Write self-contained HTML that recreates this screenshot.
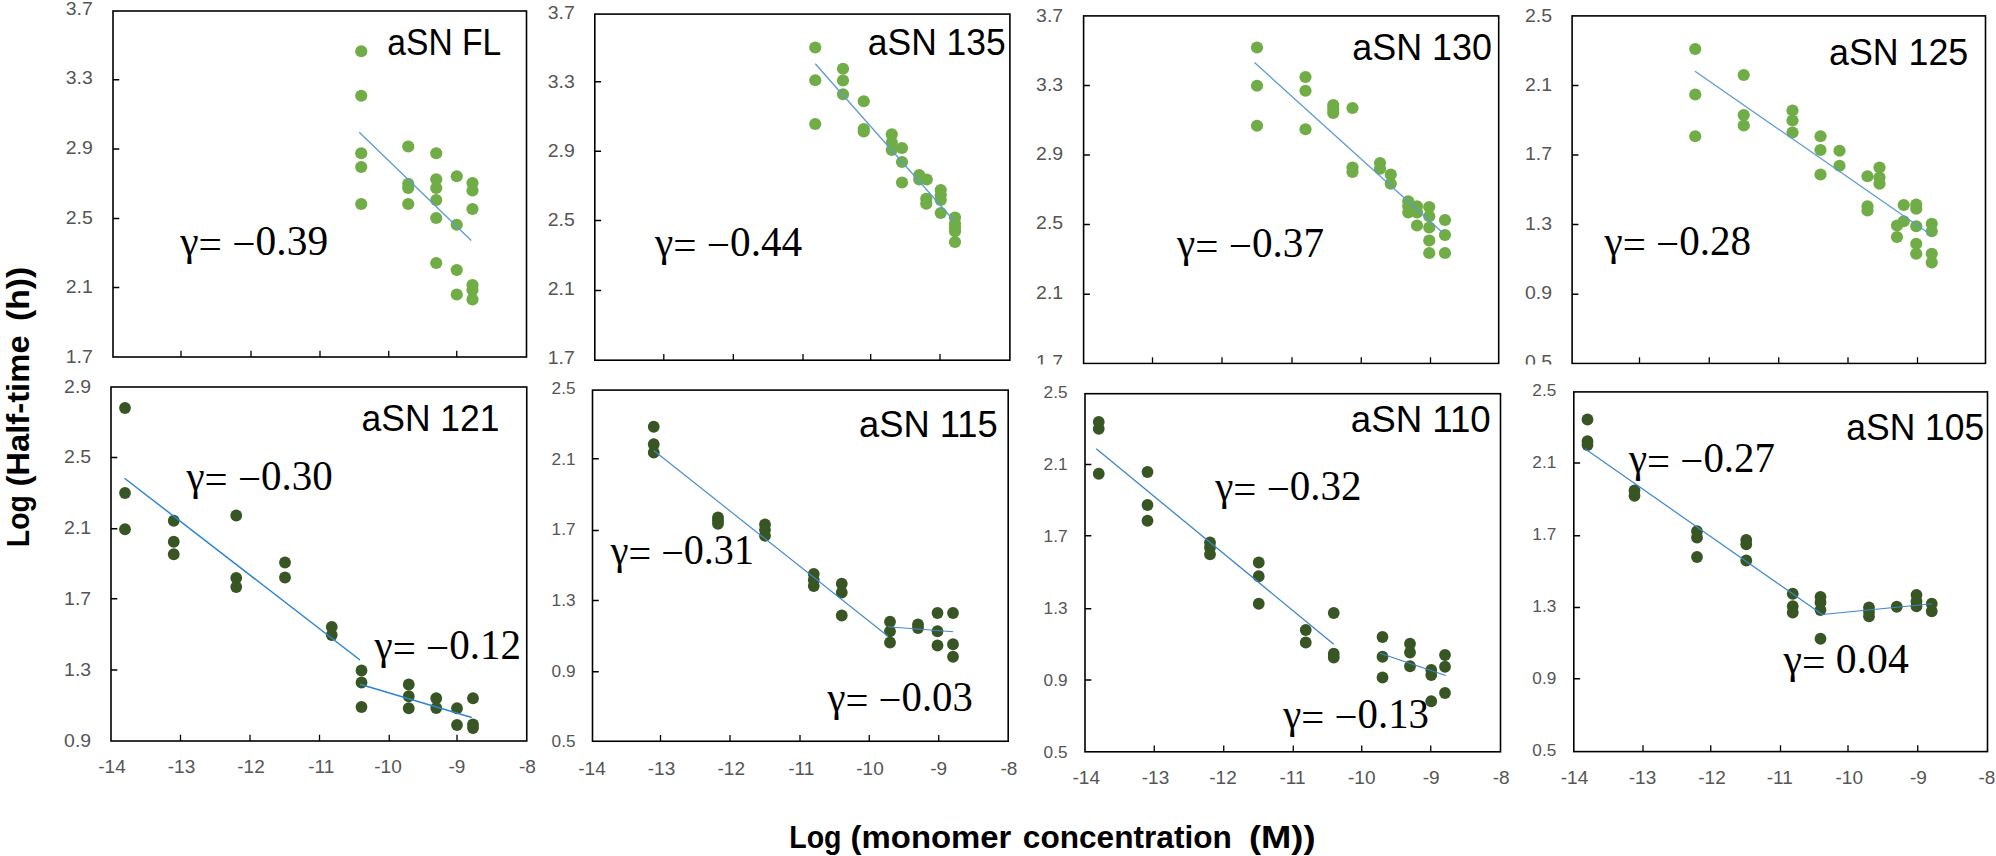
<!DOCTYPE html>
<html lang="en"><head><meta charset="utf-8"><title>aSN half-time scaling</title>
<style>
html,body{margin:0;padding:0;background:#fff}
body{width:1996px;height:856px;overflow:hidden}
svg{display:block}
.tk{font-family:"Liberation Sans",sans-serif;fill:#555}
.ti{font-family:"Liberation Sans",sans-serif;fill:#000}
.ga{font-family:"Liberation Serif",serif;fill:#000}
.ax{font-family:"Liberation Sans",sans-serif;font-weight:bold;fill:#000}
</style></head><body>
<svg width="1996" height="856" viewBox="0 0 1996 856">
<defs><clipPath id="toprow"><rect x="0" y="0" width="1996" height="364.5"/></clipPath></defs>
<rect width="1996" height="856" fill="#fff"/>
<!-- panel 1: aSN FL -->
<g clip-path="url(#toprow)">
<rect x="113" y="11" width="413.5" height="346" fill="none" stroke="#000" stroke-width="1.6"/>
<path d="M113 79.75h6.3M113 149h6.3M113 218.5h6.3M113 287.5h6.3M181 357v-6.3M251 357v-6.3M320 357v-6.3M388.75 357v-6.3M456.75 357v-6.3" fill="none" stroke="#000" stroke-width="1.3"/>
<g class="tk" font-size="18.5"><text x="65.72" y="14.7" textLength="27.06" lengthAdjust="spacingAndGlyphs">3.7</text><text x="65.72" y="84.3" textLength="27.06" lengthAdjust="spacingAndGlyphs">3.3</text><text x="65.72" y="153.9" textLength="27.06" lengthAdjust="spacingAndGlyphs">2.9</text><text x="65.72" y="223.5" textLength="27.06" lengthAdjust="spacingAndGlyphs">2.5</text><text x="65.72" y="293.1" textLength="27.06" lengthAdjust="spacingAndGlyphs">2.1</text><text x="65.72" y="362.7" textLength="27.06" lengthAdjust="spacingAndGlyphs">1.7</text></g>
<g fill="#70ad47"><circle cx="361.25" cy="51.25" r="6.1"/><circle cx="361.25" cy="95.75" r="6.1"/><circle cx="361.25" cy="153.25" r="6.1"/><circle cx="361.25" cy="167" r="6.1"/><circle cx="361.25" cy="204" r="6.1"/><circle cx="408.25" cy="146.5" r="6.1"/><circle cx="408.25" cy="183.75" r="6.1"/><circle cx="408.25" cy="188" r="6.1"/><circle cx="408.25" cy="204" r="6.1"/><circle cx="436.25" cy="153.25" r="6.1"/><circle cx="436.25" cy="179.25" r="6.1"/><circle cx="436.25" cy="188" r="6.1"/><circle cx="436.25" cy="200" r="6.1"/><circle cx="436.25" cy="218" r="6.1"/><circle cx="436.25" cy="263" r="6.1"/><circle cx="456.75" cy="176.25" r="6.1"/><circle cx="456.75" cy="224.75" r="6.1"/><circle cx="456.75" cy="270" r="6.1"/><circle cx="456.75" cy="294.5" r="6.1"/><circle cx="472.5" cy="183" r="6.1"/><circle cx="472.5" cy="190.5" r="6.1"/><circle cx="472.5" cy="209" r="6.1"/><circle cx="472.5" cy="285" r="6.1"/><circle cx="472.5" cy="290" r="6.1"/><circle cx="472.5" cy="299.5" r="6.1"/></g>
<line x1="359.25" y1="132.25" x2="471.25" y2="240.5" stroke="#5b9bd5" stroke-width="1.3"/>
<text class="ti" font-size="37" x="387.3" y="55" textLength="113.95" lengthAdjust="spacingAndGlyphs">aSN FL</text>
<text class="ga" font-size="41.5" x="180.2" y="255.1" textLength="147.9" lengthAdjust="spacingAndGlyphs" xml:space="preserve">γ<tspan dy="3.2">= −</tspan><tspan dy="-3.2">0.39</tspan></text>
</g>
<!-- panel 2: aSN 135 -->
<g clip-path="url(#toprow)">
<rect x="594.8" y="14.1" width="415.1" height="346.1" fill="none" stroke="#000" stroke-width="1.6"/>
<path d="M594.8 81.75h6.3M594.8 151.25h6.3M594.8 220.5h6.3M594.8 290.5h6.3M663.8 360.2v-6.3M733.3 360.2v-6.3M803 360.2v-6.3M870.7 360.2v-6.3M940 360.2v-6.3" fill="none" stroke="#000" stroke-width="1.3"/>
<g class="tk" font-size="18.5"><text x="547.72" y="18.5" textLength="27.06" lengthAdjust="spacingAndGlyphs">3.7</text><text x="547.72" y="87.64" textLength="27.06" lengthAdjust="spacingAndGlyphs">3.3</text><text x="547.72" y="156.78" textLength="27.06" lengthAdjust="spacingAndGlyphs">2.9</text><text x="547.72" y="225.92" textLength="27.06" lengthAdjust="spacingAndGlyphs">2.5</text><text x="547.72" y="295.06" textLength="27.06" lengthAdjust="spacingAndGlyphs">2.1</text><text x="547.72" y="364.2" textLength="27.06" lengthAdjust="spacingAndGlyphs">1.7</text></g>
<g fill="#70ad47"><circle cx="815.25" cy="47.5" r="6.1"/><circle cx="815.25" cy="80.25" r="6.1"/><circle cx="815.25" cy="124" r="6.1"/><circle cx="843" cy="68.75" r="6.1"/><circle cx="843" cy="80.5" r="6.1"/><circle cx="843" cy="94.25" r="6.1"/><circle cx="863.75" cy="101.25" r="6.1"/><circle cx="863.75" cy="129" r="6.1"/><circle cx="863.75" cy="131.5" r="6.1"/><circle cx="891.75" cy="134.25" r="6.1"/><circle cx="891.75" cy="142.5" r="6.1"/><circle cx="891.75" cy="150" r="6.1"/><circle cx="902" cy="148" r="6.1"/><circle cx="902" cy="162" r="6.1"/><circle cx="902" cy="182.5" r="6.1"/><circle cx="919.25" cy="175" r="6.1"/><circle cx="919.25" cy="179.5" r="6.1"/><circle cx="926.75" cy="179.5" r="6.1"/><circle cx="926.25" cy="198.75" r="6.1"/><circle cx="926.25" cy="203.75" r="6.1"/><circle cx="940.75" cy="190" r="6.1"/><circle cx="940.75" cy="195" r="6.1"/><circle cx="940.75" cy="200" r="6.1"/><circle cx="940.75" cy="213" r="6.1"/><circle cx="955" cy="217.5" r="6.1"/><circle cx="955" cy="223.75" r="6.1"/><circle cx="955" cy="227.5" r="6.1"/><circle cx="955" cy="231.25" r="6.1"/><circle cx="955" cy="242" r="6.1"/></g>
<line x1="815.25" y1="63.75" x2="954.5" y2="221.25" stroke="#5b9bd5" stroke-width="1.3"/>
<text class="ti" font-size="37" x="867.8" y="54.5" textLength="137.95" lengthAdjust="spacingAndGlyphs">aSN 135</text>
<text class="ga" font-size="41.5" x="655" y="255.5" textLength="147.25" lengthAdjust="spacingAndGlyphs" xml:space="preserve">γ<tspan dy="3.2">= −</tspan><tspan dy="-3.2">0.44</tspan></text>
</g>
<!-- panel 3: aSN 130 -->
<g clip-path="url(#toprow)">
<rect x="1083.6" y="15.9" width="415.1" height="347.6" fill="none" stroke="#000" stroke-width="1.6"/>
<path d="M1083.6 85.5h6.3M1083.6 155h6.3M1083.6 224.5h6.3M1083.6 294.25h6.3M1152.5 363.5v-6.3M1222 363.5v-6.3M1292 363.5v-6.3M1361.25 363.5v-6.3M1430.5 363.5v-6.3" fill="none" stroke="#000" stroke-width="1.3"/>
<g class="tk" font-size="18.5"><text x="1036.12" y="21.8" textLength="27.06" lengthAdjust="spacingAndGlyphs">3.7</text><text x="1036.12" y="91" textLength="27.06" lengthAdjust="spacingAndGlyphs">3.3</text><text x="1036.12" y="160.2" textLength="27.06" lengthAdjust="spacingAndGlyphs">2.9</text><text x="1036.12" y="229.4" textLength="27.06" lengthAdjust="spacingAndGlyphs">2.5</text><text x="1036.12" y="298.6" textLength="27.06" lengthAdjust="spacingAndGlyphs">2.1</text><text x="1036.12" y="367.8" textLength="27.06" lengthAdjust="spacingAndGlyphs">1.7</text></g>
<g fill="#70ad47"><circle cx="1257" cy="47.5" r="6.1"/><circle cx="1257" cy="85.75" r="6.1"/><circle cx="1257" cy="125.75" r="6.1"/><circle cx="1305.5" cy="77" r="6.1"/><circle cx="1305.5" cy="90.75" r="6.1"/><circle cx="1305.5" cy="129.25" r="6.1"/><circle cx="1333.25" cy="105" r="6.1"/><circle cx="1333.25" cy="108.75" r="6.1"/><circle cx="1333.25" cy="113" r="6.1"/><circle cx="1352.5" cy="108" r="6.1"/><circle cx="1352.5" cy="167.5" r="6.1"/><circle cx="1352.5" cy="172" r="6.1"/><circle cx="1380" cy="163" r="6.1"/><circle cx="1380" cy="168.75" r="6.1"/><circle cx="1390.75" cy="174.5" r="6.1"/><circle cx="1390.75" cy="183.75" r="6.1"/><circle cx="1408.25" cy="201.25" r="6.1"/><circle cx="1408.25" cy="206.25" r="6.1"/><circle cx="1408.25" cy="212.5" r="6.1"/><circle cx="1417" cy="206.25" r="6.1"/><circle cx="1417" cy="212.5" r="6.1"/><circle cx="1417" cy="225.5" r="6.1"/><circle cx="1429.25" cy="207" r="6.1"/><circle cx="1429.25" cy="216.25" r="6.1"/><circle cx="1429.25" cy="227.5" r="6.1"/><circle cx="1429.25" cy="240.5" r="6.1"/><circle cx="1429.25" cy="253" r="6.1"/><circle cx="1445" cy="220" r="6.1"/><circle cx="1445" cy="235" r="6.1"/><circle cx="1445" cy="253" r="6.1"/></g>
<line x1="1254.5" y1="62.5" x2="1442.5" y2="232.5" stroke="#5b9bd5" stroke-width="1.3"/>
<text class="ti" font-size="37" x="1352.3" y="60" textLength="139.7" lengthAdjust="spacingAndGlyphs">aSN 130</text>
<text class="ga" font-size="41.5" x="1177" y="257" textLength="147" lengthAdjust="spacingAndGlyphs" xml:space="preserve">γ<tspan dy="3.2">= −</tspan><tspan dy="-3.2">0.37</tspan></text>
</g>
<!-- panel 4: aSN 125 -->
<g clip-path="url(#toprow)">
<rect x="1572.1" y="15.9" width="413.4" height="347.6" fill="none" stroke="#000" stroke-width="1.6"/>
<path d="M1572.1 85.5h6.3M1572.1 155h6.3M1572.1 224.5h6.3M1572.1 294.25h6.3M1639.5 363.5v-6.3M1709.25 363.5v-6.3M1778.75 363.5v-6.3M1848 363.5v-6.3M1917.5 363.5v-6.3" fill="none" stroke="#000" stroke-width="1.3"/>
<g class="tk" font-size="18.5"><text x="1524.92" y="22.1" textLength="27.06" lengthAdjust="spacingAndGlyphs">2.5</text><text x="1524.92" y="91.26" textLength="27.06" lengthAdjust="spacingAndGlyphs">2.1</text><text x="1524.92" y="160.42" textLength="27.06" lengthAdjust="spacingAndGlyphs">1.7</text><text x="1524.92" y="229.58" textLength="27.06" lengthAdjust="spacingAndGlyphs">1.3</text><text x="1524.92" y="298.74" textLength="27.06" lengthAdjust="spacingAndGlyphs">0.9</text><text x="1524.92" y="367.9" textLength="27.06" lengthAdjust="spacingAndGlyphs">0.5</text></g>
<g fill="#70ad47"><circle cx="1695.25" cy="49" r="6.1"/><circle cx="1695.25" cy="94.5" r="6.1"/><circle cx="1695.25" cy="136.25" r="6.1"/><circle cx="1743.75" cy="75" r="6.1"/><circle cx="1743.75" cy="115" r="6.1"/><circle cx="1743.75" cy="125.5" r="6.1"/><circle cx="1792.5" cy="110.5" r="6.1"/><circle cx="1792.5" cy="120.5" r="6.1"/><circle cx="1792.5" cy="132.5" r="6.1"/><circle cx="1820.5" cy="136.25" r="6.1"/><circle cx="1820.5" cy="150" r="6.1"/><circle cx="1820.5" cy="174.5" r="6.1"/><circle cx="1839.5" cy="150.75" r="6.1"/><circle cx="1839.5" cy="165.75" r="6.1"/><circle cx="1867.5" cy="176.25" r="6.1"/><circle cx="1867.5" cy="206.25" r="6.1"/><circle cx="1867.5" cy="210.5" r="6.1"/><circle cx="1879.5" cy="167.5" r="6.1"/><circle cx="1879.5" cy="177.5" r="6.1"/><circle cx="1879.5" cy="183.75" r="6.1"/><circle cx="1903.75" cy="205" r="6.1"/><circle cx="1903.75" cy="221.25" r="6.1"/><circle cx="1897" cy="225.5" r="6.1"/><circle cx="1897" cy="237" r="6.1"/><circle cx="1916.25" cy="204.5" r="6.1"/><circle cx="1916.25" cy="208.75" r="6.1"/><circle cx="1916.25" cy="226.25" r="6.1"/><circle cx="1916.25" cy="243.75" r="6.1"/><circle cx="1916.25" cy="253.75" r="6.1"/><circle cx="1931.75" cy="223.75" r="6.1"/><circle cx="1931.75" cy="231.25" r="6.1"/><circle cx="1931.75" cy="253.75" r="6.1"/><circle cx="1931.75" cy="262.5" r="6.1"/></g>
<line x1="1695" y1="71.25" x2="1930.5" y2="234.5" stroke="#5b9bd5" stroke-width="1.3"/>
<text class="ti" font-size="37" x="1829.05" y="64.5" textLength="139.2" lengthAdjust="spacingAndGlyphs">aSN 125</text>
<text class="ga" font-size="41.5" x="1604.5" y="255" textLength="146.5" lengthAdjust="spacingAndGlyphs" xml:space="preserve">γ<tspan dy="3.2">= −</tspan><tspan dy="-3.2">0.28</tspan></text>
</g>
<!-- panel 5: aSN 121 -->
<g>
<rect x="111" y="387" width="415.75" height="354" fill="none" stroke="#000" stroke-width="1.6"/>
<path d="M111 457.5h6.3M111 528.75h6.3M111 598.75h6.3M111 670h6.3M180.5 741v-6.3M250 741v-6.3M319.5 741v-6.3M389.25 741v-6.3M457 741v-6.3" fill="none" stroke="#000" stroke-width="1.3"/>
<g class="tk" font-size="18.5"><text x="64.12" y="392.6" textLength="27.06" lengthAdjust="spacingAndGlyphs">2.9</text><text x="64.12" y="463.4" textLength="27.06" lengthAdjust="spacingAndGlyphs">2.5</text><text x="64.12" y="534.2" textLength="27.06" lengthAdjust="spacingAndGlyphs">2.1</text><text x="64.12" y="605" textLength="27.06" lengthAdjust="spacingAndGlyphs">1.7</text><text x="64.12" y="675.8" textLength="27.06" lengthAdjust="spacingAndGlyphs">1.3</text><text x="64.12" y="746.6" textLength="27.06" lengthAdjust="spacingAndGlyphs">0.9</text></g>
<g class="tk" font-size="19" text-anchor="middle"><text x="112" y="773">-14</text><text x="181.5" y="773">-13</text><text x="251" y="773">-12</text><text x="321.25" y="773">-11</text><text x="388" y="773">-10</text><text x="457" y="773">-9</text><text x="527.5" y="773">-8</text></g>
<g fill="#375623"><circle cx="125" cy="408" r="5.9"/><circle cx="125" cy="493" r="5.9"/><circle cx="125" cy="529.25" r="5.9"/><circle cx="173.75" cy="520.75" r="5.9"/><circle cx="173.75" cy="541.75" r="5.9"/><circle cx="173.75" cy="554.25" r="5.9"/><circle cx="236.25" cy="515.5" r="5.9"/><circle cx="236.25" cy="578" r="5.9"/><circle cx="236.25" cy="587" r="5.9"/><circle cx="285" cy="562.5" r="5.9"/><circle cx="285" cy="577.5" r="5.9"/><circle cx="331.75" cy="627" r="5.9"/><circle cx="331.75" cy="635" r="5.9"/><circle cx="361.5" cy="670.5" r="5.9"/><circle cx="361.5" cy="682.5" r="5.9"/><circle cx="361.5" cy="707" r="5.9"/><circle cx="408.75" cy="684.5" r="5.9"/><circle cx="408.75" cy="696.25" r="5.9"/><circle cx="408.75" cy="708.25" r="5.9"/><circle cx="436.25" cy="698.25" r="5.9"/><circle cx="436.25" cy="708" r="5.9"/><circle cx="457" cy="708.25" r="5.9"/><circle cx="457" cy="725" r="5.9"/><circle cx="473" cy="698.25" r="5.9"/><circle cx="473" cy="724.5" r="5.9"/><circle cx="473" cy="728" r="5.9"/></g>
<line x1="124.5" y1="478.25" x2="360" y2="660" stroke="#2a84d2" stroke-width="1.45"/>
<line x1="360" y1="684.25" x2="471.75" y2="717.5" stroke="#2a84d2" stroke-width="1.45"/>
<text class="ti" font-size="37" x="361.55" y="430.75" textLength="137.95" lengthAdjust="spacingAndGlyphs">aSN 121</text>
<text class="ga" font-size="41.5" x="186.5" y="490" textLength="146.25" lengthAdjust="spacingAndGlyphs" xml:space="preserve">γ<tspan dy="3.2">= −</tspan><tspan dy="-3.2">0.30</tspan></text>
<text class="ga" font-size="41.5" x="374.5" y="658.75" textLength="146.5" lengthAdjust="spacingAndGlyphs" xml:space="preserve">γ<tspan dy="3.2">= −</tspan><tspan dy="-3.2">0.12</tspan></text>
</g>
<!-- panel 6: aSN 115 -->
<g>
<rect x="592.5" y="390.1" width="415.7" height="351.15" fill="none" stroke="#000" stroke-width="1.6"/>
<path d="M592.5 458.75h6.3M592.5 530.5h6.3M592.5 600.5h6.3M592.5 671.75h6.3M660.5 741.25v-6.3M730 741.25v-6.3M800 741.25v-6.3M869.25 741.25v-6.3M938.75 741.25v-6.3" fill="none" stroke="#000" stroke-width="1.3"/>
<g class="tk" font-size="16"><text x="551.63" y="394.1" textLength="23.89" lengthAdjust="spacingAndGlyphs">2.5</text><text x="551.63" y="464.7" textLength="23.89" lengthAdjust="spacingAndGlyphs">2.1</text><text x="551.63" y="535.3" textLength="23.89" lengthAdjust="spacingAndGlyphs">1.7</text><text x="551.63" y="605.9" textLength="23.89" lengthAdjust="spacingAndGlyphs">1.3</text><text x="551.63" y="676.5" textLength="23.89" lengthAdjust="spacingAndGlyphs">0.9</text><text x="551.63" y="747.1" textLength="23.89" lengthAdjust="spacingAndGlyphs">0.5</text></g>
<g class="tk" font-size="19" text-anchor="middle"><text x="592" y="775">-14</text><text x="661.5" y="775">-13</text><text x="731.25" y="775">-12</text><text x="801.25" y="775">-11</text><text x="870" y="775">-10</text><text x="938.75" y="775">-9</text><text x="1009" y="775">-8</text></g>
<g fill="#375623"><circle cx="653.75" cy="426.75" r="5.9"/><circle cx="653.75" cy="444.25" r="5.9"/><circle cx="653.75" cy="452.5" r="5.9"/><circle cx="718" cy="517.5" r="5.9"/><circle cx="718" cy="520.5" r="5.9"/><circle cx="718" cy="523.75" r="5.9"/><circle cx="765" cy="524.5" r="5.9"/><circle cx="765" cy="530" r="5.9"/><circle cx="765" cy="535.75" r="5.9"/><circle cx="813.75" cy="574" r="5.9"/><circle cx="813.75" cy="580" r="5.9"/><circle cx="813.75" cy="586" r="5.9"/><circle cx="841.75" cy="583.75" r="5.9"/><circle cx="841.75" cy="592.5" r="5.9"/><circle cx="841.75" cy="615.5" r="5.9"/><circle cx="890" cy="621.75" r="5.9"/><circle cx="890" cy="631.25" r="5.9"/><circle cx="890" cy="642.5" r="5.9"/><circle cx="918" cy="624.5" r="5.9"/><circle cx="918" cy="628" r="5.9"/><circle cx="937.5" cy="613" r="5.9"/><circle cx="937.5" cy="631.25" r="5.9"/><circle cx="937.5" cy="645.5" r="5.9"/><circle cx="953" cy="613" r="5.9"/><circle cx="953" cy="644.25" r="5.9"/><circle cx="953" cy="656.75" r="5.9"/></g>
<line x1="653.75" y1="450.5" x2="888" y2="636.25" stroke="#4389cf" stroke-width="1.15"/>
<line x1="888" y1="626.75" x2="953.25" y2="631.75" stroke="#4389cf" stroke-width="1.15"/>
<text class="ti" font-size="37" x="859.05" y="437" textLength="138.7" lengthAdjust="spacingAndGlyphs">aSN 115</text>
<text class="ga" font-size="41.5" x="610.75" y="563.75" textLength="143.25" lengthAdjust="spacingAndGlyphs" xml:space="preserve">γ<tspan dy="3.2">= −</tspan><tspan dy="-3.2">0.31</tspan></text>
<text class="ga" font-size="41.5" x="827.5" y="711.25" textLength="145.25" lengthAdjust="spacingAndGlyphs" xml:space="preserve">γ<tspan dy="3.2">= −</tspan><tspan dy="-3.2">0.03</tspan></text>
</g>
<!-- panel 7: aSN 110 -->
<g>
<rect x="1085" y="393.7" width="415.5" height="358.1" fill="none" stroke="#000" stroke-width="1.6"/>
<path d="M1085 464.5h6.3M1085 535.75h6.3M1085 608.75h6.3M1085 680h6.3M1154.25 751.8v-6.3M1223.75 751.8v-6.3M1293.25 751.8v-6.3M1361.75 751.8v-6.3M1430.75 751.8v-6.3" fill="none" stroke="#000" stroke-width="1.3"/>
<g class="tk" font-size="16"><text x="1043.63" y="397.6" textLength="23.89" lengthAdjust="spacingAndGlyphs">2.5</text><text x="1043.63" y="469.6" textLength="23.89" lengthAdjust="spacingAndGlyphs">2.1</text><text x="1043.63" y="541.6" textLength="23.89" lengthAdjust="spacingAndGlyphs">1.7</text><text x="1043.63" y="613.6" textLength="23.89" lengthAdjust="spacingAndGlyphs">1.3</text><text x="1043.63" y="685.6" textLength="23.89" lengthAdjust="spacingAndGlyphs">0.9</text><text x="1043.63" y="757.6" textLength="23.89" lengthAdjust="spacingAndGlyphs">0.5</text></g>
<g class="tk" font-size="19" text-anchor="middle"><text x="1086.25" y="784">-14</text><text x="1155.5" y="784">-13</text><text x="1223" y="784">-12</text><text x="1292.5" y="784">-11</text><text x="1361.75" y="784">-10</text><text x="1431.25" y="784">-9</text><text x="1501.2" y="784">-8</text></g>
<g fill="#375623"><circle cx="1098.75" cy="422" r="5.9"/><circle cx="1098.75" cy="428.75" r="5.9"/><circle cx="1098.75" cy="473.75" r="5.9"/><circle cx="1147.5" cy="472" r="5.9"/><circle cx="1147.5" cy="505" r="5.9"/><circle cx="1147.5" cy="520.75" r="5.9"/><circle cx="1210" cy="542.5" r="5.9"/><circle cx="1210" cy="547.5" r="5.9"/><circle cx="1210" cy="554.25" r="5.9"/><circle cx="1258.75" cy="562.5" r="5.9"/><circle cx="1258.75" cy="576.25" r="5.9"/><circle cx="1258.75" cy="603.75" r="5.9"/><circle cx="1305.75" cy="630" r="5.9"/><circle cx="1305.75" cy="642.5" r="5.9"/><circle cx="1333.75" cy="613" r="5.9"/><circle cx="1333.75" cy="653.75" r="5.9"/><circle cx="1333.75" cy="657.5" r="5.9"/><circle cx="1382.5" cy="637" r="5.9"/><circle cx="1382.5" cy="656.75" r="5.9"/><circle cx="1382.5" cy="677.5" r="5.9"/><circle cx="1410" cy="643.75" r="5.9"/><circle cx="1410" cy="652.5" r="5.9"/><circle cx="1410" cy="666.25" r="5.9"/><circle cx="1431.25" cy="670" r="5.9"/><circle cx="1431.25" cy="675" r="5.9"/><circle cx="1431.25" cy="701.25" r="5.9"/><circle cx="1445" cy="655" r="5.9"/><circle cx="1445" cy="666.75" r="5.9"/><circle cx="1445" cy="693" r="5.9"/></g>
<line x1="1096.25" y1="448.75" x2="1333.75" y2="644.25" stroke="#3d83c8" stroke-width="1.3"/>
<line x1="1380" y1="653.25" x2="1445.75" y2="675.5" stroke="#3d83c8" stroke-width="1.3"/>
<text class="ti" font-size="37" x="1350.8" y="432" textLength="139.95" lengthAdjust="spacingAndGlyphs">aSN 110</text>
<text class="ga" font-size="41.5" x="1215.25" y="500" textLength="146.25" lengthAdjust="spacingAndGlyphs" xml:space="preserve">γ<tspan dy="3.2">= −</tspan><tspan dy="-3.2">0.32</tspan></text>
<text class="ga" font-size="41.5" x="1283.25" y="728" textLength="145.75" lengthAdjust="spacingAndGlyphs" xml:space="preserve">γ<tspan dy="3.2">= −</tspan><tspan dy="-3.2">0.13</tspan></text>
</g>
<!-- panel 8: aSN 105 -->
<g>
<rect x="1573.8" y="391.9" width="413.7" height="359.7" fill="none" stroke="#000" stroke-width="1.6"/>
<path d="M1573.8 463h6.3M1573.8 535.75h6.3M1573.8 607.5h6.3M1573.8 678.75h6.3M1643 751.6v-6.3M1710.75 751.6v-6.3M1780.5 751.6v-6.3M1848 751.6v-6.3M1917.75 751.6v-6.3" fill="none" stroke="#000" stroke-width="1.3"/>
<g class="tk" font-size="16"><text x="1532.33" y="395.9" textLength="23.89" lengthAdjust="spacingAndGlyphs">2.5</text><text x="1532.33" y="467.86" textLength="23.89" lengthAdjust="spacingAndGlyphs">2.1</text><text x="1532.33" y="539.82" textLength="23.89" lengthAdjust="spacingAndGlyphs">1.7</text><text x="1532.33" y="611.78" textLength="23.89" lengthAdjust="spacingAndGlyphs">1.3</text><text x="1532.33" y="683.74" textLength="23.89" lengthAdjust="spacingAndGlyphs">0.9</text><text x="1532.33" y="755.7" textLength="23.89" lengthAdjust="spacingAndGlyphs">0.5</text></g>
<g class="tk" font-size="19" text-anchor="middle"><text x="1574.5" y="784">-14</text><text x="1642.5" y="784">-13</text><text x="1712" y="784">-12</text><text x="1779.75" y="784">-11</text><text x="1849.25" y="784">-10</text><text x="1918.5" y="784">-9</text><text x="1987" y="784">-8</text></g>
<g fill="#375623"><circle cx="1587.5" cy="419.5" r="5.9"/><circle cx="1587.5" cy="441.25" r="5.9"/><circle cx="1587.5" cy="445" r="5.9"/><circle cx="1634.5" cy="490.5" r="5.9"/><circle cx="1634.5" cy="495.75" r="5.9"/><circle cx="1697" cy="531.25" r="5.9"/><circle cx="1697" cy="537.5" r="5.9"/><circle cx="1697" cy="557" r="5.9"/><circle cx="1746.25" cy="540" r="5.9"/><circle cx="1746.25" cy="544.25" r="5.9"/><circle cx="1746.25" cy="560.5" r="5.9"/><circle cx="1792.75" cy="593.75" r="5.9"/><circle cx="1792.75" cy="606.25" r="5.9"/><circle cx="1792.75" cy="612.5" r="5.9"/><circle cx="1820.5" cy="597" r="5.9"/><circle cx="1820.5" cy="602.5" r="5.9"/><circle cx="1820.5" cy="610" r="5.9"/><circle cx="1820.5" cy="638.75" r="5.9"/><circle cx="1869" cy="607.5" r="5.9"/><circle cx="1869" cy="612" r="5.9"/><circle cx="1869" cy="616.25" r="5.9"/><circle cx="1896.75" cy="606.75" r="5.9"/><circle cx="1916.5" cy="595" r="5.9"/><circle cx="1916.5" cy="601.25" r="5.9"/><circle cx="1916.5" cy="606.25" r="5.9"/><circle cx="1931.75" cy="603.75" r="5.9"/><circle cx="1931.75" cy="611.25" r="5.9"/></g>
<line x1="1585" y1="448.75" x2="1822.25" y2="614.5" stroke="#3a86cf" stroke-width="1.2"/>
<line x1="1822.25" y1="614.5" x2="1932.25" y2="603.75" stroke="#3a86cf" stroke-width="1.2"/>
<text class="ti" font-size="37" x="1846.3" y="440" textLength="137.95" lengthAdjust="spacingAndGlyphs">aSN 105</text>
<text class="ga" font-size="41.5" x="1629" y="472" textLength="146" lengthAdjust="spacingAndGlyphs" xml:space="preserve">γ<tspan dy="3.2">= −</tspan><tspan dy="-3.2">0.27</tspan></text>
<text class="ga" font-size="41.5" x="1783.5" y="673" textLength="125.25" lengthAdjust="spacingAndGlyphs" xml:space="preserve">γ<tspan dy="3.2">= </tspan><tspan dy="-3.2">0.04</tspan></text>
</g>
<text class="ax" font-size="31" y="848"><tspan x="789.23" textLength="52.29" lengthAdjust="spacingAndGlyphs">Log</tspan> <tspan x="850.63" textLength="160.79" lengthAdjust="spacingAndGlyphs">(monomer</tspan> <tspan x="1022.83" textLength="208.99" lengthAdjust="spacingAndGlyphs">concentration</tspan> <tspan x="1249.03" textLength="66.49" lengthAdjust="spacingAndGlyphs">(M))</tspan></text>
<text class="ax" font-size="31" transform="translate(29.2 546.5) rotate(-90)" y="0"><tspan x="-0.67" textLength="51.99" lengthAdjust="spacingAndGlyphs">Log</tspan> <tspan x="59.93" textLength="151.19" lengthAdjust="spacingAndGlyphs">(Half-time</tspan> <tspan x="225.43" textLength="54.39" lengthAdjust="spacingAndGlyphs">(h))</tspan></text>
</svg>
</body></html>
